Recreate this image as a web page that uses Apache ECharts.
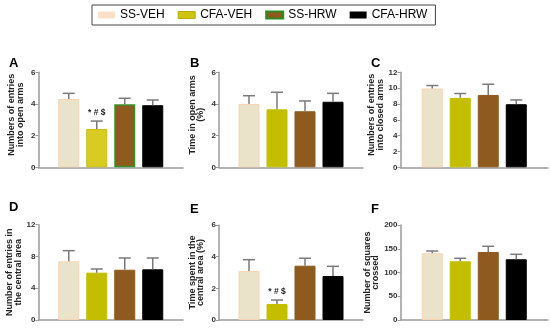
<!DOCTYPE html>
<html>
<head>
<meta charset="utf-8">
<script src="https://cdn.jsdelivr.net/npm/echarts@6/dist/echarts.min.js"></script>
<style>html,body{margin:0;padding:0;background:#fff}#c{width:550px;height:330px}</style>
</head>
<body>
<div id="c"></div>
<script>
const groups = ['SS-VEH', 'CFA-VEH', 'SS-HRW', 'CFA-HRW'];
const panelLetters = ['A', 'B', 'C', 'D', 'E', 'F'];
const yTitles = [
  'Numbers of entries\ninto open arms',
  'Time in open arms\n(%)',
  'Numbers of entries\ninto closed arms',
  'Number of entries in\nthe central area',
  'Time spent in the\ncentral area (%)',
  'Number of squares\ncrossed'
];
const yMax = [6, 6, 12, 12, 6, 200];
const yStep = [2, 2, 2, 4, 2, 50];

const openEntriesMean = [4.31, 2.42, 3.98, 3.92];
const openEntriesSem = [0.36, 0.50, 0.38, 0.33];
const openTimeMean = [4.00, 3.66, 3.54, 4.14];
const openTimeSem = [0.52, 1.08, 0.65, 0.53];
const closedEntriesMean = [9.95, 8.77, 9.14, 7.97];
const closedEntriesSem = [0.38, 0.55, 1.35, 0.54];
const centralEntriesMean = [7.39, 5.96, 6.33, 6.38];
const centralEntriesSem = [1.34, 0.46, 1.48, 1.43];
const centralTimeMean = [3.09, 1.01, 3.43, 2.78];
const centralTimeSem = [0.72, 0.25, 0.47, 0.61];
const squaresMean = [140.4, 123.6, 143.2, 127.8];
const squaresSem = [4.9, 6.3, 12.0, 10.5];

const means = [openEntriesMean, openTimeMean, closedEntriesMean, centralEntriesMean, centralTimeMean, squaresMean];
const sems = [openEntriesSem, openTimeSem, closedEntriesSem, centralEntriesSem, centralTimeSem, squaresSem];
// significance annotation: panel index -> group index -> text
const annotations = [['', '* # $', '', ''], ['', '', '', ''], ['', '', '', ''], ['', '', '', ''], ['', '* # $', '', ''], ['', '', '', '']];

const FONT = 'Liberation Sans, Arial, sans-serif';
const grids = [
  {left: 38.5, top: 72.3, width: 144.5, height: 95},
  {left: 219, top: 72.3, width: 144, height: 95},
  {left: 400.5, top: 72.3, width: 147.5, height: 95},
  {left: 38.5, top: 224.7, width: 144.5, height: 95.3},
  {left: 219, top: 225, width: 144, height: 95},
  {left: 400.5, top: 225, width: 147.5, height: 95}
];
const letterPos = [[9, 57], [190, 57], [371, 57], [9, 201], [190, 203], [371, 203]];
const nameShift = [10, 10, 10, 0, 0, 0];

const BAR_W = 21, BAR_GAP = 7;
const fillDefault = ['#ebe3c9', '#c3be00', '#8e5a1e', '#000000'];
const borderDefault = ['#f6d3b3', '#c3be00', '#8e5a1e', '#000000'];

function styleFor(p, g) {
  let s = {color: fillDefault[g], borderColor: borderDefault[g], borderWidth: 1};
  if (p === 0 && g === 1) s = {color: '#d8cb22', borderColor: '#c9bb16', borderWidth: 1};
  if (p === 0 && g === 2) s = {color: '#8e5a1e', borderColor: '#3a9028', borderWidth: 1.5};
  return s;
}

const series = [];
for (let p = 0; p < 6; p++) {
  for (let g = 0; g < 4; g++) {
    series.push({
      type: 'bar', name: groups[g], xAxisIndex: p, yAxisIndex: p,
      data: [means[p][g]], barWidth: BAR_W, barGap: (BAR_GAP / BAR_W * 100) + '%',
      itemStyle: styleFor(p, g), silent: true, z: 2
    });
  }
  const errData = means[p].map((m, g) => [0, m, m + sems[p][g], g]);
  series.push({
    type: 'custom', xAxisIndex: p, yAxisIndex: p, silent: true, z: 5,
    data: errData,
    renderItem: (function (pp) {
      return function (params, api) {
        const g = api.value(3);
        const off = (g - 1.5) * (BAR_W + BAR_GAP);
        const base = api.coord([0, api.value(1)]);
        const top = api.coord([0, api.value(2)]);
        const x = base[0] + off;
        const children = [
          {type: 'line', shape: {x1: x, y1: base[1], x2: x, y2: top[1]}, style: {stroke: '#7a7a7a', lineWidth: 1.5}},
          {type: 'line', shape: {x1: x - 6, y1: top[1], x2: x + 6, y2: top[1]}, style: {stroke: '#7a7a7a', lineWidth: 1.5}}
        ];
        const ann = annotations[pp][g];
        if (ann) {
          children.push({type: 'text', x: x, y: top[1] - 4, style: {text: ann, fill: '#222', font: 'bold 8.5px ' + FONT, align: 'center', verticalAlign: 'bottom'}});
        }
        return {type: 'group', children: children};
      };
    })(p)
  });
}

const option = {
  animation: false,
  backgroundColor: '#fff',
  title: panelLetters.map((t, i) => ({text: t, left: letterPos[i][0], top: letterPos[i][1], padding: 0, textStyle: {fontSize: 13, fontWeight: 'bold', color: '#000', fontFamily: FONT}})),
  legend: {
    left: 92, top: 5, padding: [4, 8, 4, 6], itemGap: 13, itemWidth: 17, itemHeight: 7,
    borderColor: '#444', borderWidth: 1, selectedMode: false,
    textStyle: {fontSize: 12, color: '#000', fontFamily: FONT},
    data: [
      {name: 'SS-VEH', icon: 'rect', itemStyle: {color: '#fbe0c8', borderWidth: 0}},
      {name: 'CFA-VEH', icon: 'rect', itemStyle: {color: '#cfc40e', borderColor: '#b8ac10', borderWidth: 1}},
      {name: 'SS-HRW', icon: 'rect', itemStyle: {color: '#8e5a1e', borderColor: '#2f8a22', borderWidth: 2}},
      {name: 'CFA-HRW', icon: 'rect', itemStyle: {color: '#000', borderWidth: 0}}
    ]
  },
  grid: grids,
  xAxis: grids.map((g, i) => ({
    type: 'category', gridIndex: i, data: [''],
    axisLine: {lineStyle: {color: '#9a9a9a', width: 1.5}},
    axisTick: {show: false}, axisLabel: {show: false}
  })),
  yAxis: grids.map((g, i) => ({
    type: 'value', gridIndex: i, min: 0, max: yMax[i], interval: yStep[i],
    name: yTitles[i], nameLocation: 'middle', nameGap: 14,
    nameTextStyle: {fontSize: 9, fontWeight: 'bold', color: '#222', fontFamily: FONT, lineHeight: 8.5, padding: [0, 0, 0, nameShift[i]]},
    axisLine: {show: true, lineStyle: {color: '#9a9a9a', width: 1.5}},
    axisTick: {show: true, length: 3, lineStyle: {color: '#9a9a9a', width: 1}},
    axisLabel: {fontSize: 8, fontWeight: 'bold', color: '#333', margin: 3, fontFamily: FONT},
    splitLine: {show: false}
  })),
  series: series
};

const chart = echarts.init(document.getElementById('c'), null, {renderer: 'canvas'});
chart.setOption(option);
</script>
</body>
</html>
